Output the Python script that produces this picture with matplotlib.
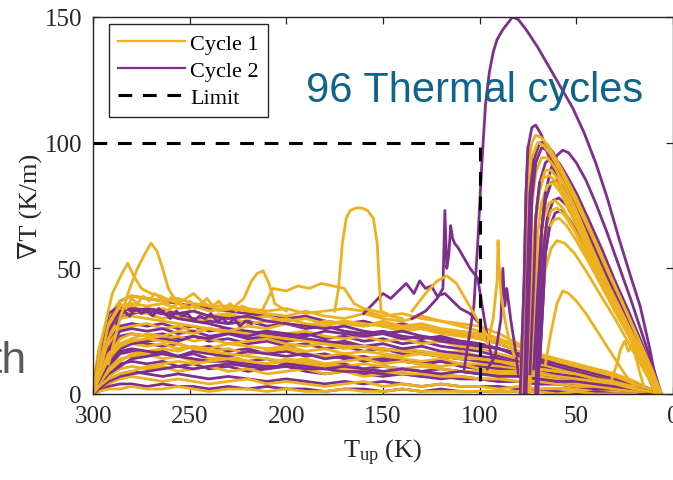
import matplotlib
matplotlib.use("Agg")
import matplotlib.pyplot as plt

plt.rcParams["font.family"] = ["Liberation Serif", "DejaVu Serif"]
plt.rcParams["mathtext.fontset"] = "custom"
plt.rcParams["mathtext.rm"] = "Liberation Serif"
plt.rcParams["mathtext.it"] = "Liberation Serif:italic"

# ---- data ----
# shared temperature grid (K) for the long, flat-ish traces
T_grid = [300, 297, 292, 286, 280, 272, 264, 256, 248, 240, 230, 220, 210, 200, 190, 180, 170,
          160, 150, 140, 130, 120, 110, 100, 90, 80, 70, 60, 50, 40, 30, 20, 12, 6]

# cycle 1 (yellow) flat traces
c1_a = [3, 18, 31, 37, 39, 38, 37, 38, 36, 35, 35, 34, 33, 34, 32, 33, 34, 33, 31, 32, 30, 29, 28, 27, 24, 20, 16, 13, 11, 9, 7, 5, 2, 0]
c1_b = [1, 10, 24, 31, 33, 32, 30, 31, 29, 30, 31, 28, 29, 30, 28, 27, 29, 28, 27, 25, 26, 24, 23, 22, 20, 17, 14, 12, 10, 8, 6, 4, 2, 0]
c1_c = [10, 8, 20, 26, 27, 28, 26, 27, 25, 26, 24, 25, 23, 24, 25, 23, 22, 23, 21, 22, 20, 21, 19, 18, 16, 14, 12, 10, 9, 7, 5, 3, 1, 0]
c1_d = [2, 6, 15, 22, 24, 23, 22, 23, 21, 22, 20, 21, 22, 20, 19, 20, 18, 19, 17, 18, 17, 16, 17, 15, 14, 12, 10, 9, 8, 6, 5, 3, 1, 0]
c1_e = [0, 5, 12, 18, 20, 19, 20, 18, 19, 17, 18, 16, 17, 18, 16, 15, 16, 14, 15, 14, 13, 14, 12, 12, 11, 10, 9, 8, 7, 5, 4, 2, 1, 0]
c1_f = [1, 4, 10, 14, 15, 16, 14, 15, 13, 14, 15, 13, 12, 13, 14, 12, 11, 12, 11, 10, 11, 10, 9, 9, 8, 8, 7, 6, 5, 4, 3, 2, 1, 0]
c1_g = [0, 3, 7, 10, 11, 10, 11, 9, 10, 11, 9, 10, 8, 9, 10, 8, 9, 7, 8, 9, 7, 8, 7, 6, 6, 5, 5, 4, 4, 3, 2, 1, 1, 0]
c1_h = [0, 2, 4, 6, 7, 6, 5, 6, 5, 4, 5, 6, 4, 5, 4, 3, 4, 5, 3, 4, 3, 4, 3, 3, 2, 3, 2, 2, 2, 1, 1, 1, 0, 0]
c1_i = [0, 1, 2, 2, 3, 2, 2, 3, 2, 1, 2, 2, 1, 2, 1, 1, 2, 1, 1, 2, 1, 1, 1, 1, 1, 1, 1, 0, 1, 0, 0, 0, 0, 0]
c1_j = [4, 12, 26, 34, 35, 33, 34, 32, 33, 31, 32, 30, 31, 29, 30, 28, 29, 27, 28, 26, 27, 25, 24, 23, 21, 19, 16, 14, 12, 10, 8, 5, 2, 0]
c1_k = [0, 8, 22, 30, 31, 30, 29, 28, 27, 26, 25, 24, 23, 22, 21, 20, 19, 19, 18, 17, 16, 16, 15, 14, 13, 11, 10, 9, 8, 6, 5, 3, 1, 0]
c1_l = [1, 7, 16, 20, 22, 24, 23, 25, 24, 26, 25, 27, 26, 28, 27, 29, 28, 27, 29, 27, 28, 26, 25, 24, 22, 19, 15, 12, 10, 8, 6, 4, 2, 0]
c1_m = [0, 4, 9, 13, 16, 17, 18, 17, 19, 18, 20, 19, 18, 19, 17, 18, 16, 17, 16, 15, 16, 15, 14, 14, 13, 12, 10, 9, 8, 6, 5, 3, 1, 0]
c1_n = [0, 6, 14, 19, 21, 22, 21, 20, 18, 17, 16, 15, 14, 13, 12, 11, 10, 10, 9, 8, 8, 7, 7, 6, 6, 5, 5, 4, 3, 3, 2, 1, 1, 0]
c1_o = [0, 3, 6, 8, 9, 11, 12, 13, 12, 13, 14, 13, 12, 14, 13, 12, 13, 14, 12, 13, 12, 11, 12, 10, 9, 9, 8, 7, 6, 5, 4, 2, 1, 0]
c1_p = [2, 9, 28, 35, 36, 35, 36, 34, 35, 33, 34, 33, 32, 31, 33, 31, 30, 32, 30, 29, 31, 29, 27, 25, 22, 19, 16, 13, 11, 9, 7, 4, 2, 0]

# cycle 2 (purple) flat traces
c2_a = [1, 14, 30, 37, 39, 38, 37, 36, 35, 34, 33, 32, 31, 30, 31, 29, 28, 29, 27, 28, 26, 25, 24, 22, 20, 17, 14, 12, 10, 8, 6, 4, 2, 0]
c2_b = [0, 12, 26, 31, 32, 33, 32, 31, 30, 29, 28, 29, 27, 28, 26, 27, 25, 24, 25, 23, 22, 23, 21, 20, 18, 15, 13, 11, 9, 7, 5, 3, 1, 0]
c2_c = [0, 9, 21, 27, 28, 27, 28, 26, 27, 25, 26, 24, 25, 23, 24, 22, 23, 21, 22, 20, 21, 19, 18, 17, 15, 13, 11, 10, 8, 6, 5, 3, 1, 0]
c2_d = [0, 7, 17, 23, 24, 23, 24, 22, 23, 21, 22, 20, 21, 19, 20, 18, 19, 17, 18, 16, 17, 15, 14, 14, 13, 11, 10, 9, 7, 6, 4, 2, 1, 0]
c2_e = [0, 5, 13, 19, 21, 20, 19, 20, 18, 19, 17, 18, 16, 17, 15, 16, 14, 15, 13, 14, 12, 13, 12, 11, 10, 9, 8, 7, 6, 5, 3, 2, 1, 0]
c2_f = [0, 4, 11, 16, 17, 16, 17, 15, 16, 14, 15, 13, 14, 12, 13, 11, 12, 10, 11, 10, 9, 10, 9, 8, 8, 7, 6, 5, 5, 4, 3, 2, 1, 0]
c2_g = [0, 3, 8, 12, 13, 12, 13, 11, 12, 10, 11, 9, 10, 11, 9, 8, 9, 8, 7, 8, 7, 6, 7, 6, 5, 5, 4, 4, 3, 3, 2, 1, 0, 0]
c2_h = [0, 2, 5, 8, 9, 8, 7, 8, 7, 6, 7, 6, 5, 6, 5, 4, 5, 4, 5, 4, 3, 4, 3, 3, 3, 2, 2, 2, 2, 1, 1, 1, 0, 0]
c2_i = [0, 1, 3, 4, 4, 3, 4, 3, 3, 2, 3, 2, 3, 2, 2, 1, 2, 2, 1, 2, 1, 2, 1, 1, 1, 1, 1, 1, 0, 1, 0, 0, 0, 0]
c2_j = [0, 6, 18, 25, 26, 25, 26, 24, 25, 23, 24, 22, 23, 21, 22, 20, 21, 19, 20, 18, 19, 17, 16, 15, 14, 12, 11, 9, 8, 6, 4, 3, 1, 0]
c2_k = [0, 10, 25, 33, 34, 33, 32, 30, 29, 28, 26, 25, 24, 23, 22, 21, 20, 19, 18, 17, 16, 15, 14, 13, 12, 11, 10, 8, 7, 5, 4, 2, 1, 0]
c2_l = [0, 6, 14, 18, 20, 21, 22, 21, 23, 22, 24, 23, 25, 24, 23, 25, 24, 23, 24, 22, 23, 21, 20, 19, 18, 16, 13, 11, 9, 7, 5, 3, 1, 0]
c2_m = [0, 3, 8, 11, 14, 15, 16, 15, 17, 16, 15, 17, 16, 15, 16, 14, 15, 13, 14, 13, 12, 13, 11, 10, 10, 9, 8, 7, 6, 5, 3, 2, 1, 0]
c2_n = [0, 5, 12, 17, 18, 17, 16, 15, 14, 13, 13, 12, 11, 11, 10, 10, 9, 9, 8, 8, 7, 7, 6, 6, 5, 5, 4, 4, 3, 2, 2, 1, 0, 0]
c2_o = [0, 2, 5, 7, 8, 9, 10, 11, 10, 11, 12, 11, 10, 12, 11, 10, 11, 10, 9, 10, 9, 8, 9, 8, 7, 7, 6, 5, 5, 4, 3, 2, 1, 0]
c2_p = [1, 15, 32, 35, 33, 34, 33, 32, 33, 31, 30, 31, 29, 28, 27, 26, 27, 25, 24, 25, 23, 22, 21, 20, 18, 16, 14, 12, 10, 8, 6, 4, 2, 0]

c1_flat = [c1_a, c1_b, c1_c, c1_d, c1_e, c1_f, c1_g, c1_h, c1_i, c1_j, c1_k, c1_l, c1_m, c1_n, c1_o, c1_p]
c2_flat = [c2_a, c2_b, c2_c, c2_d, c2_e, c2_f, c2_g, c2_h, c2_i, c2_j, c2_k, c2_l, c2_m, c2_n, c2_o, c2_p]

# jittery upper traces on the warm side
yj_T = [290, 286, 283, 280, 277, 274, 271, 268, 265, 262, 259, 256, 253, 250, 247, 244, 241, 238,
        235, 232, 229, 226, 223, 220]
yj_G = [30, 36, 34, 38, 36, 39, 37, 40, 38, 36, 39, 37, 35, 37, 34, 36, 38, 35, 37, 34, 36, 33, 35, 34]
pj_T = [288, 284, 281, 278, 275, 272, 269, 266, 263, 260, 257, 254, 251, 248, 245, 242, 239, 236,
        233, 230, 227, 224, 221, 218]
pj_G = [28, 33, 31, 34, 32, 33, 31, 34, 32, 30, 33, 31, 32, 29, 31, 30, 32, 29, 30, 28, 30, 27, 29, 28]

# cycle 1 bumps and spikes (T, grad)
y282_T = [300, 296, 290, 285, 282, 279, 275, 270, 265, 260, 255]
y282_G = [0, 20, 40, 48, 52, 47, 42, 40, 39, 37, 36]
y270_T = [292, 286, 281, 277, 273, 270, 267, 264, 261, 258, 254, 250]
y270_G = [12, 30, 42, 50, 56, 60, 57, 50, 42, 38, 35, 34]
y248_T = [262, 256, 252, 248, 244, 240, 236]
y248_G = [33, 36, 38, 40, 37, 35, 34]
y213_T = [235, 228, 222, 218, 215, 212, 209, 206, 200]
y213_G = [33, 34, 38, 45, 48, 49, 44, 36, 33]
y190_T = [212, 207, 200, 194, 188, 182, 176, 170, 165, 160, 154, 148]
y190_G = [34, 42, 41, 43, 42, 44, 43, 42, 36, 34, 33, 32]
y163_T = [175, 173, 171, 169, 167, 164, 161, 158, 155, 153, 152, 151, 146, 140]
y163_G = [33, 42, 60, 70, 73, 74, 74, 73, 70, 60, 45, 33, 31, 30]
y117_T = [135, 128, 122, 117, 112, 106, 100, 95]
y117_G = [33, 40, 45, 47, 44, 36, 28, 22]
y90_T = [96, 93, 91, 90.5, 90, 89, 87, 85, 82]
y90_G = [20, 30, 45, 61, 52, 40, 30, 22, 15]
y22_T = [32, 29, 27, 25, 23, 21, 19, 17, 15]
y22_G = [5, 12, 18, 21, 17, 20, 14, 8, 3]

# cycle 1 arcs below 80 K
ya1_T = [79, 77, 76, 75, 73, 71, 68, 64, 58, 50, 42, 34, 26, 18, 11, 6]
ya1_G = [8, 40, 70, 90, 100, 103, 102, 98, 90, 78, 64, 50, 36, 22, 9, 0]
ya2_T = [78, 76, 75, 73, 70, 67, 63, 57, 50, 42, 34, 26, 18, 11, 6]
ya2_G = [0, 45, 75, 94, 100, 99, 95, 87, 76, 63, 49, 36, 22, 10, 0]
ya3_T = [76, 74, 73, 71, 68, 65, 61, 56, 50, 43, 35, 27, 19, 12, 7]
ya3_G = [10, 50, 75, 88, 94, 94, 90, 83, 73, 60, 46, 33, 20, 9, 0]
ya4_T = [74, 72, 71, 69, 66, 63, 59, 54, 48, 41, 33, 25, 17, 10, 6]
ya4_G = [0, 45, 68, 82, 89, 89, 85, 77, 67, 55, 42, 30, 18, 7, 0]
ya5_T = [73, 71, 70, 68, 65, 62, 58, 53, 47, 40, 32, 24, 16, 9]
ya5_G = [12, 45, 64, 76, 83, 84, 80, 72, 62, 50, 38, 26, 14, 0]
ya6_T = [72, 70, 69, 67, 64, 61, 57, 52, 46, 39, 31, 23, 15, 9]
ya6_G = [10, 40, 58, 70, 76, 77, 74, 67, 58, 47, 35, 24, 12, 0]
ya7_T = [70, 68, 67, 65, 62, 59, 55, 50, 44, 37, 30, 22, 15, 9]
ya7_G = [15, 40, 55, 64, 69, 70, 67, 61, 53, 43, 33, 22, 11, 0]
ya8_T = [66, 63, 60, 57, 54, 50, 45, 40, 35, 30, 25, 20]
ya8_G = [12, 25, 36, 41, 40, 37, 32, 26, 20, 14, 8, 3]
ya9_T = [70, 68, 66, 63, 60, 56, 51, 45, 38, 30, 22, 14, 8]
ya9_G = [12, 35, 50, 58, 61, 60, 56, 49, 40, 30, 19, 8, 0]
ya10_T = [75, 73, 72, 70, 67, 64, 60, 55, 49, 42, 34, 26, 18, 11, 6]
ya10_G = [0, 40, 62, 78, 86, 87, 84, 77, 67, 55, 42, 30, 18, 7, 0]
ya11_T = [71, 69, 68, 66, 63, 60, 56, 51, 45, 38, 30, 22, 14, 8]
ya11_G = [0, 38, 55, 66, 73, 74, 71, 65, 56, 45, 33, 22, 10, 0]

# cycle 2 spikes and arcs
p150_T = [108, 106, 103, 101, 99, 97, 95, 93, 91, 88, 85, 83, 80, 76, 70, 64, 58, 52, 46, 40, 34, 28, 22, 17, 12, 8]
p150_G = [10, 20, 35, 60, 90, 115, 128, 136, 141, 145, 148, 150, 149, 145, 138, 130, 122, 114, 104, 92, 78, 62, 47, 35, 18, 2]
p118_T = [135, 128, 122, 119, 118, 117, 116, 115, 114, 113, 111, 108, 105, 101, 97, 94]
p118_G = [30, 33, 38, 42, 73, 50, 55, 67, 62, 60, 58, 54, 50, 46, 27, 15]
p140_T = [160, 155, 150, 146, 142, 138, 134, 131, 128, 125, 122, 118, 114, 110, 105, 100]
p140_G = [32, 36, 40, 38, 41, 44, 40, 45, 42, 43, 39, 40, 37, 34, 32, 28]
p88_T = [96, 92, 89, 88, 87, 86, 84, 82, 80]
p88_G = [10, 15, 30, 50, 35, 42, 30, 20, 8]
pa1_T = [79, 77, 76, 75, 73, 71, 68, 65, 61, 56, 50, 43, 35, 27, 19, 12, 7]
pa1_G = [0, 45, 80, 98, 106, 107, 103, 96, 88, 79, 68, 56, 43, 31, 19, 8, 0]
pa2_T = [72, 70, 68, 66, 63, 60, 57, 54, 50, 45, 40, 34, 28, 22, 16, 10, 6]
pa2_G = [10, 40, 65, 80, 90, 95, 97, 96, 92, 85, 76, 64, 51, 38, 24, 10, 0]
pa3_T = [74, 72, 71, 69, 66, 63, 59, 55, 50, 44, 37, 30, 23, 16, 10, 6]
pa3_G = [8, 45, 70, 84, 92, 94, 92, 87, 80, 70, 58, 45, 33, 20, 8, 0]
pa4_T = [71, 69, 68, 66, 63, 60, 56, 51, 45, 38, 31, 24, 17, 10, 6]
pa4_G = [0, 45, 65, 77, 84, 85, 82, 75, 65, 53, 40, 28, 16, 5, 0]
pa5_T = [69, 67, 66, 64, 61, 58, 54, 49, 43, 36, 29, 22, 15, 9]
pa5_G = [12, 40, 56, 66, 72, 73, 70, 64, 55, 44, 33, 22, 11, 0]
pa6_T = [76, 74, 73, 71, 68, 65, 62, 58, 53, 47, 40, 32, 24, 16, 9]
pa6_G = [0, 50, 78, 92, 98, 97, 93, 87, 79, 69, 57, 44, 31, 17, 0]
pa7_T = [77, 75, 74, 72, 69, 66, 62, 57, 51, 44, 37, 29, 21, 13, 7]
pa7_G = [0, 55, 80, 93, 100, 100, 96, 88, 78, 66, 53, 40, 27, 13, 0]
pa8_T = [70, 68, 67, 65, 62, 59, 55, 50, 44, 37, 30, 23, 16, 9]
pa8_G = [0, 42, 58, 70, 77, 78, 75, 68, 59, 48, 36, 25, 13, 0]

limit_T = [300, 100, 100]
limit_G = [100, 100, 0]

c1_extra = [(yj_T, yj_G), (y282_T, y282_G), (y270_T, y270_G), (y248_T, y248_G), (y213_T, y213_G),
            (y190_T, y190_G), (y163_T, y163_G), (y117_T, y117_G), (y90_T, y90_G),
            (y22_T, y22_G), (ya1_T, ya1_G), (ya2_T, ya2_G), (ya3_T, ya3_G),
            (ya4_T, ya4_G), (ya5_T, ya5_G), (ya6_T, ya6_G), (ya7_T, ya7_G),
            (ya8_T, ya8_G), (ya9_T, ya9_G), (ya10_T, ya10_G), (ya11_T, ya11_G)]
c2_extra = [(pj_T, pj_G), (p150_T, p150_G), (p118_T, p118_G), (p140_T, p140_G), (p88_T, p88_G),
            (pa1_T, pa1_G), (pa2_T, pa2_G), (pa3_T, pa3_G), (pa4_T, pa4_G),
            (pa5_T, pa5_G), (pa6_T, pa6_G), (pa7_T, pa7_G), (pa8_T, pa8_G)]

col1 = "#EDB120"
col2 = "#7E2F8E"
lw = 2.0

fig = plt.figure(figsize=(6.73, 4.81), dpi=100)
ax = fig.add_axes([93 / 673, 1 - 395 / 481, 580 / 673, 377 / 481])

# interleave the two cycles so the stripes overlap like the original
for k in range(len(c1_flat)):
    ax.plot(T_grid, c2_flat[k], color=col2, lw=lw)
    ax.plot(T_grid, c1_flat[k], color=col1, lw=lw)
for T, G in c2_extra:
    ax.plot(T, G, color=col2, lw=lw)
for T, G in c1_extra:
    ax.plot(T, G, color=col1, lw=lw)
# purple rising legs drawn again on top
for T, G in c2_extra[5:]:
    ax.plot(T[:4], G[:4], color=col2, lw=lw)

h1, = ax.plot([], [], color=col1, lw=1.6, label="Cycle 1")
h2, = ax.plot([], [], color=col2, lw=1.6, label="Cycle 2")
h3, = ax.plot(limit_T, limit_G, color="black", lw=2.2, ls=(0, (4.5, 3.5)), label="Limit")

ax.set_xlim(300, 0)
ax.set_ylim(0, 150)
ax.set_xticks([300, 250, 200, 150, 100, 50, 0])
ax.set_yticks([0, 50, 100, 150])
ax.tick_params(direction="in", top=True, right=True, length=5, width=0.9,
               labelsize=18, colors="#262626", pad=8)
for s in ax.spines.values():
    s.set_linewidth(1.0)
    s.set_color("#262626")

ax.set_xlabel(r"T$_{\rm up}$ (K)", fontsize=19, color="#262626", labelpad=7)
ax.set_ylabel("\u2207T (K/m)", fontsize=19, color="#262626", labelpad=2)

leg = ax.legend(handles=[h1, h2, h3], loc="upper left", bbox_to_anchor=(0.0276, 0.981),
                borderaxespad=0, fancybox=False, framealpha=1, edgecolor="#262626",
                fontsize=16, handlelength=3.0, handletextpad=0.25, labelspacing=0.3,
                borderpad=0.4)
leg.get_frame().set_linewidth(1.0)

fig.text(306 / 673, 1 - 102 / 481, "96 Thermal cycles", fontsize=30, color="#10648C",
         family=["Liberation Sans", "DejaVu Sans"], va="baseline", ha="left")
fig.text(26 / 673, 1 - 373 / 481, "th", fontsize=32, color="#595959",
         family=["Liberation Sans", "DejaVu Sans"], va="baseline", ha="right")

fig.savefig("out.png", dpi=100)
